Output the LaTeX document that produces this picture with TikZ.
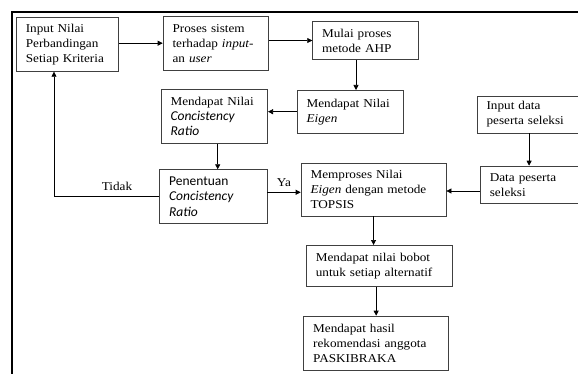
\documentclass[tikz,border=0pt]{standalone}
\usepackage{fontspec}
\setmainfont{Liberation Serif}[FakeStretch=1.1]
\newfontfamily\calfont{Carlito}
\usetikzlibrary{arrows.meta}
\begin{document}
\begin{tikzpicture}[x=1pt,y=-1pt,
  box/.style={draw=black!75, line width=0.7pt, anchor=north west, inner xsep=9.5pt, inner ysep=0pt, align=left,
    font=\fontsize{12}{15}\selectfont},
  sbox/.style={box, font=\calfont\fontsize{13.5}{15.5}\selectfont},
  arr/.style={draw=black, line width=0.7pt, -{Triangle[length=5pt,width=5pt]}},
  lbl/.style={font=\fontsize{12}{15}\selectfont, inner sep=0pt}]
\useasboundingbox (0,0) rectangle (578,374);
\draw[line width=2pt] (11.7,374) -- (11.7,11.7) -- (578,11.7);

\node[box, minimum width=102.3pt, minimum height=53.7pt, text width=83.3pt] (A) at (16,17.3)
  {Input Nilai\\Perbandingan\\Setiap Kriteria};
\node[box, minimum width=105.6pt, minimum height=54.3pt, text width=86.6pt] (B) at (162.7,15.7)
  {Proses sistem\\terhadap \textit{input-}\\an \textit{user}};
\node[box, minimum width=106pt, minimum height=38.3pt, text width=87pt] (M) at (312.3,21)
  {Mulai proses\\metode AHP};
\node[box, minimum width=106.6pt, minimum height=42.7pt, text width=87.6pt] (E) at (296.7,90)
  {Mendapat Nilai\\\textit{Eigen}};
\node[box, minimum width=106.6pt, minimum height=54pt, text width=87.6pt] (C) at (160.7,89.3)
  {Mendapat Nilai\\{\calfont\fontsize{13.5}{15}\selectfont\itshape Concistency}\\{\calfont\fontsize{13.5}{15}\selectfont\itshape Ratio}};
\node[sbox, minimum width=107.4pt, minimum height=54pt, text width=88.4pt] (P) at (159.3,169.3)
  {Penentuan\\\textit{Concistency}\\\textit{Ratio}};
\node[box, minimum width=100.8pt, minimum height=37pt, text width=81.8pt] (I) at (476.7,95.7)
  {Input data\\peserta seleksi};
\node[box, minimum width=97.5pt, minimum height=37.6pt, text width=78.5pt] (D) at (480,165.7)
  {Data peserta\\seleksi};
\node[box, minimum width=145pt, minimum height=53pt, text width=126pt] (T) at (300.7,162.7)
  {Memproses Nilai\\\textit{Eigen} dengan metode\\TOPSIS};
\node[box, minimum width=145.7pt, minimum height=41pt, text width=126.7pt] (W) at (306,245)
  {Mendapat nilai bobot\\untuk setiap alternatif};
\node[box, minimum width=145pt, minimum height=54.3pt, text width=126pt] (H) at (303.3,315.7)
  {Mendapat hasil\\rekomendasi anggota\\PASKIBRAKA};

\coordinate (xme) at (356,0);
\coordinate (xcp) at (217.7,0);
\coordinate (xfb) at (54,0);
\coordinate (ypt) at (0,192.3);
\coordinate (ydt) at (0,191);

\draw[arr] (A.east |- B.west) -- (B.west);
\draw[arr] (B.east |- M.west) -- (M.west);
\draw[arr] (M.south -| xme) -- (E.north -| xme);
\draw[arr] (E.west) -- (E.west -| C.east);
\draw[arr] (C.south -| xcp) -- (P.north -| xcp);
\draw[arr] (P.west) -| (A.south -| xfb);
\draw[arr] (P.east |- ypt) -- (T.west |- ypt);
\draw[arr] (I.south -| D.north) -- (D.north);
\draw[arr] (D.west |- ydt) -- (T.east |- ydt);
\draw[arr] (T.south) -- (T.south |- W.north);
\draw[arr] (H.north |- W.south) -- (H.north);

\node[lbl] (tidak) at (117,186) {Tidak};
\node[lbl] (ya) at (284,183) {Ya};
\end{tikzpicture}
\end{document}
